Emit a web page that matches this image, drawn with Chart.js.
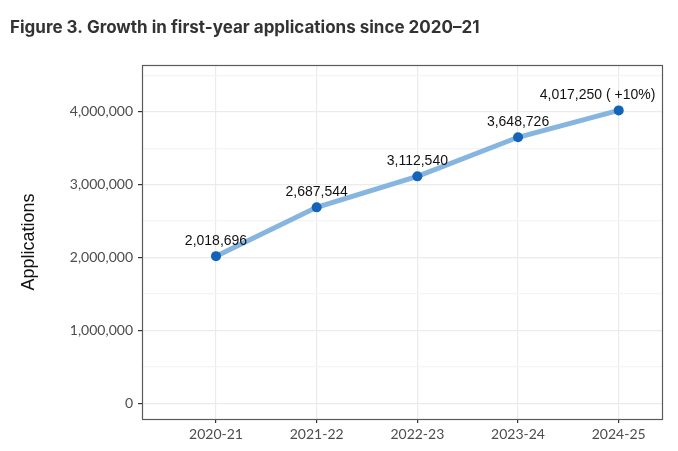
<!DOCTYPE html>
<html>
<head>
<meta charset="utf-8">
<script src="https://cdn.jsdelivr.net/npm/chart.js@4.4.1/dist/chart.umd.min.js"></script>
<style>
  html, body { margin: 0; padding: 0; background: #fff; }
  #wrap { width: 678px; height: 451px; position: relative; }
</style>
</head>
<body>
<div id="wrap"><canvas id="grafico"></canvas></div>
<script>
// dados do gráfico
const titulo = 'Figure 3. Growth in first-year applications since 2020–21';
const anos = ['2020-21', '2021-22', '2022-23', '2023-24', '2024-25'];
const candidaturas = [2018696, 2687544, 3112540, 3648726, 4017250];
const rotulos = ['2,018,696', '2,687,544', '3,112,540', '3,648,726', '4,017,250 ( +10%)'];
const deslocRotulo = [0, 0, 0, 0, -0.21]; // deslocamento horizontal (unidades do eixo x)
const ticksY = [0, 1000000, 2000000, 3000000, 4000000];

const PAINEL = { left: 142, top: 65, right: 662, bottom: 419 };

// Plugin: título, borda do painel e rótulos dos pontos
const extras = {
    id: 'extras',
    afterDatasetsDraw(chart) {
        const ctx = chart.ctx;
        const x = chart.scales.x, y = chart.scales.y;
        ctx.save();
        ctx.font = '14px "Liberation Sans", Arial, sans-serif';
        ctx.fillStyle = '#111';
        ctx.textAlign = 'center';
        ctx.textBaseline = 'middle';
        candidaturas.forEach((v, i) => {
            ctx.fillText(rotulos[i], x.getPixelForValue(i + deslocRotulo[i]), y.getPixelForValue(v) - 15);
        });
        ctx.restore();
    },
    afterDraw(chart) {
        const ctx = chart.ctx;
        const a = chart.chartArea;
        ctx.save();
        ctx.strokeStyle = '#5a5a5a';
        ctx.lineWidth = 1.2;
        ctx.strokeRect(a.left + 0.5, a.top + 0.5, a.right - a.left, a.bottom - a.top);
        ctx.font = 'bold 17px Inter, "Noto Sans", sans-serif';
        ctx.fillStyle = '#333';
        ctx.textAlign = 'left';
        ctx.textBaseline = 'middle';
        ctx.fillText(titulo, 10, 28);
        ctx.restore();
    }
};

const fonteEixo = { family: 'Lato, "Noto Sans", sans-serif', size: 14 };

new Chart(document.getElementById('grafico'), {
    type: 'line',
    data: {
        datasets: [{
            data: candidaturas.map((v, i) => ({ x: i, y: v })),
            borderColor: '#86b5e0',
            borderWidth: 5,
            pointBackgroundColor: '#1363b8',
            pointBorderColor: '#1363b8',
            pointRadius: 5,
            pointBorderWidth: 0,
            tension: 0
        }]
    },
    options: {
        responsive: true,
        maintainAspectRatio: false,
        animation: false,
        layout: { padding: { left: 0, right: 678 - PAINEL.right, top: PAINEL.top, bottom: 0 } },
        plugins: {
            legend: { display: false },
            tooltip: { enabled: false }
        },
        scales: {
            x: {
                type: 'linear',
                min: -0.735,
                max: 4.43,
                afterBuildTicks: (s) => { s.ticks = anos.map((_, i) => ({ value: i })); },
                afterFit: (s) => { s.height = 451 - PAINEL.bottom; },
                ticks: {
                    callback: (v) => anos[v],
                    color: '#4d4d4d',
                    font: fonteEixo,
                    padding: 3,
                    maxRotation: 0
                },
                grid: {
                    color: '#ebebeb',
                    lineWidth: 1.2,
                    tickColor: '#333',
                    tickLength: 4
                },
                border: { display: false }
            },
            y: {
                min: -215000,
                max: 4640000,
                afterBuildTicks: (s) => {
                    const t = [];
                    for (let v = 0; v <= 4500000; v += 500000) t.push({ value: v });
                    s.ticks = t;
                },
                afterFit: (s) => { s.width = PAINEL.left; },
                ticks: {
                    callback: (v) => ticksY.includes(v) ? v.toLocaleString('en-US') : '',
                    color: '#4d4d4d',
                    font: fonteEixo,
                    padding: 5
                },
                grid: {
                    color: (c) => ticksY.includes(c.tick && c.tick.value) ? '#ebebeb' : '#f4f4f4',
                    lineWidth: 1.2,
                    tickColor: (c) => ticksY.includes(c.tick && c.tick.value) ? '#333' : 'rgba(0,0,0,0)',
                    tickLength: 4
                },
                border: { display: false },
                title: {
                    display: true,
                    text: 'Applications',
                    color: '#111',
                    font: { family: '"Liberation Sans", Arial, sans-serif', size: 18 },
                    padding: { top: 18, bottom: 0 }
                }
            }
        }
    },
    plugins: [extras]
});
</script>
</body>
</html>
